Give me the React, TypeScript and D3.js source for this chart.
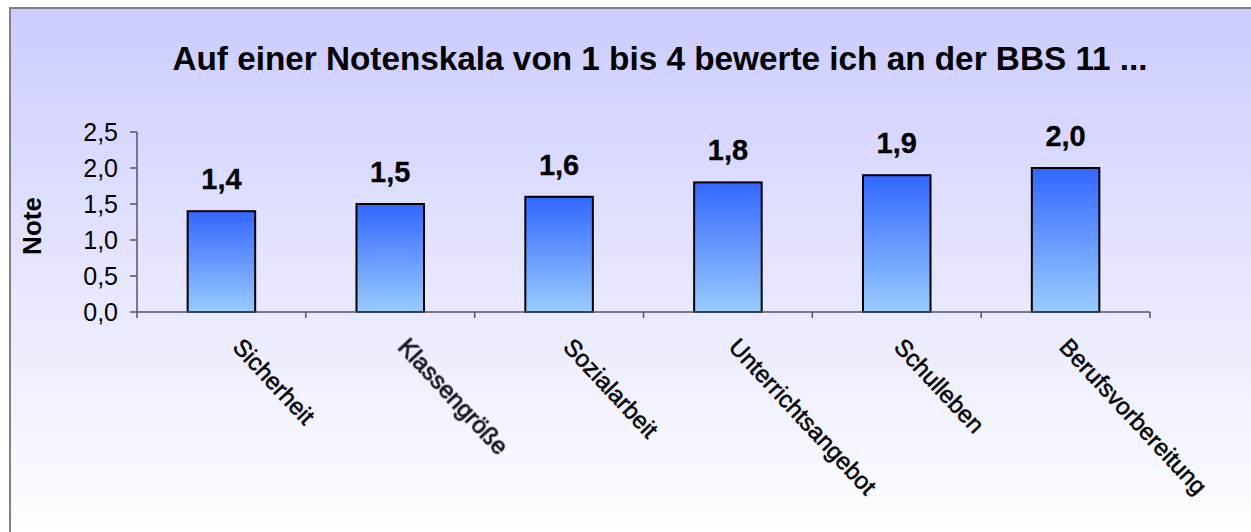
import React from "react";
import * as d3 from "d3";

const categories = ["Sicherheit", "Klassengröße", "Sozialarbeit", "Unterrichtsangebot", "Schulleben", "Berufsvorbereitung"];
const values = [1.4, 1.5, 1.6, 1.8, 1.9, 2.0];
const yTicks = [0, 0.5, 1.0, 1.5, 2.0, 2.5];
const title = "Auf einer Notenskala von 1 bis 4 bewerte ich an der BBS 11 ...";
const yTitle = "Note";

const W = 1251;
const H = 532;
const plot = { left: 137, right: 1150, top: 132, bottom: 312 };
const FONT = "'Liberation Sans', Arial, sans-serif";

export default function App() {
  const x = d3.scaleBand<string>().domain(categories).range([plot.left, plot.right]).paddingInner(0.6).paddingOuter(0.3);
  const band = d3.scaleBand<string>().domain(categories).range([plot.left, plot.right]);
  const y = d3.scaleLinear().domain([0, 2.5]).range([plot.bottom, plot.top]);
  const fmt = (v: number) => d3.format(".1f")(v).replace(".", ",");

  return (
    <svg width={W} height={H} style={{ position: "absolute", left: 0, top: 0, display: "block" }} fontFamily={FONT}>
      <defs>
        <linearGradient id="bg" x1="0" y1="0" x2="0" y2="1">
          <stop offset="0" stopColor="#CCCCFF" />
          <stop offset="1" stopColor="#FFFFFF" />
        </linearGradient>
        <linearGradient id="bar" x1="0" y1="0" x2="0" y2="1">
          <stop offset="0" stopColor="#3366FF" />
          <stop offset="1" stopColor="#99CCFF" />
        </linearGradient>
        <filter id="soft" x="-10%" y="-10%" width="120%" height="120%">
          <feGaussianBlur stdDeviation="0.45" />
        </filter>
      </defs>
      <rect x={0} y={0} width={W} height={H} fill="#FFFFFF" />
      <rect x={10} y={8} width={W} height={H} fill="url(#bg)" stroke="#808080" strokeWidth={2} />

      <text x={660} y={70} textAnchor="middle" fontSize={33.3} fontWeight="bold" fill="#000">{title}</text>

      {/* y axis */}
      <line x1={plot.left} x2={plot.left} y1={plot.top} y2={plot.bottom + 6} stroke="#55555F" strokeWidth={1.5} />
      {yTicks.map((t) => (
        <g key={t}>
          <line x1={plot.left - 7} x2={plot.left} y1={y(t)} y2={y(t)} stroke="#55555F" strokeWidth={1.5} />
          <text x={118} y={y(t)} dy="0.36em" textAnchor="end" fontSize={25} fill="#000">{fmt(t)}</text>
        </g>
      ))}
      <text transform={`translate(32,226) rotate(-90)`} textAnchor="middle" dy="0.36em" fontSize={26} fontWeight="bold" fill="#000">{yTitle}</text>

      {/* bars */}
      {categories.map((c, i) => (
        <g key={c}>
          <rect x={x(c)} y={y(values[i])} width={x.bandwidth()} height={plot.bottom - y(values[i])} fill="url(#bar)" stroke="#000" strokeWidth={2} />
          <text x={(x(c) as number) + x.bandwidth() / 2} y={y(values[i]) - 22} textAnchor="middle" fontSize={29} fontWeight="bold" fill="#000" stroke="#000" strokeWidth={0.3}>{fmt(values[i])}</text>
        </g>
      ))}

      {/* x axis */}
      <line x1={plot.left} x2={plot.right} y1={plot.bottom} y2={plot.bottom} stroke="#55555F" strokeWidth={1.5} />
      {categories.map((c) => (
        <line key={c} x1={(band(c) as number) + band.bandwidth()} x2={(band(c) as number) + band.bandwidth()} y1={plot.bottom} y2={plot.bottom + 6} stroke="#55555F" strokeWidth={1.5} />
      ))}

      {/* category labels */}
      {categories.map((c, i) => {
        const cx = (band(c) as number) + band.bandwidth() / 2;
        const lx = cx + 10 - i * 3.5;
        const blurred = c === "Klassengröße";
        return (
          <text key={c} transform={`translate(${lx},${348}) rotate(47)`} fontSize={24} fill={blurred ? "#1a1420" : "#000"} stroke={blurred ? "#1a1420" : "#000"} strokeWidth={blurred ? 0.8 : 0.5} filter={blurred ? "url(#soft)" : undefined}>{c}</text>
        );
      })}
    </svg>
  );
}
